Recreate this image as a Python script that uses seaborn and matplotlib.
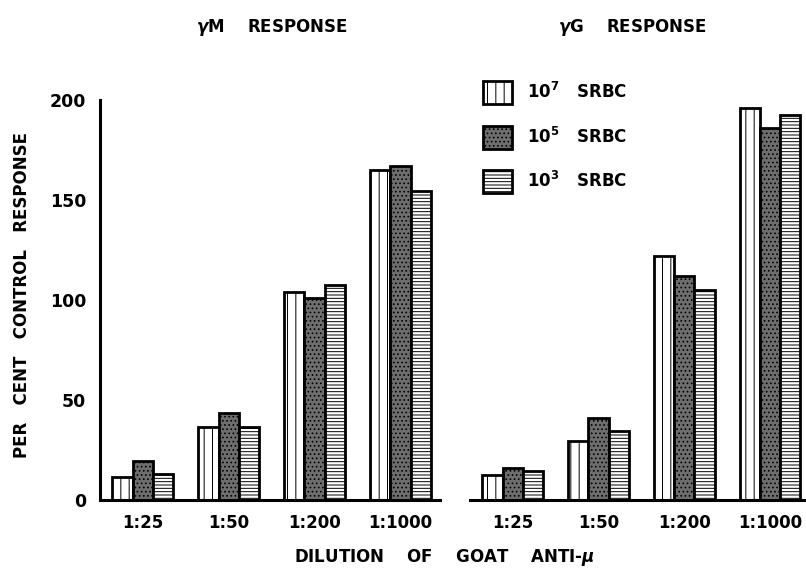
import matplotlib
matplotlib.use("Agg")
import matplotlib.pyplot as plt
from matplotlib.patches import Patch
import seaborn as sns
import pandas as pd

dilutions = ["1:25", "1:50", "1:200", "1:1000"]
doses = ["10$^{7}$   SRBC", "10$^{5}$   SRBC", "10$^{3}$   SRBC"]

gm_1e7 = [11.5, 36.5, 104, 165]
gm_1e5 = [19.5, 43.5, 101, 167]
gm_1e3 = [13, 36.5, 107.5, 154.5]

gg_1e7 = [12.5, 29.5, 122, 196]
gg_1e5 = [16, 41, 112, 186]
gg_1e3 = [14.5, 34.5, 105, 192.5]

panel_titles = [r"$\mathit{\gamma}$M    RESPONSE", r"$\mathit{\gamma}$G    RESPONSE"]
y_label = "PER   CENT   CONTROL   RESPONSE"
x_label = r"DILUTION    OF    GOAT    ANTI-$\mathit{\mu}$"

def long_df(a, b, c):
    rows = []
    for vals, d in zip([a, b, c], doses):
        for dil, v in zip(dilutions, vals):
            rows.append({"dilution": dil, "dose": d, "value": v})
    return pd.DataFrame(rows)

df_m = long_df(gm_1e7, gm_1e5, gm_1e3)
df_g = long_df(gg_1e7, gg_1e5, gg_1e3)

sns.set_theme(style="white")
plt.rcParams["font.family"] = ["DejaVu Sans"]
plt.rcParams["font.weight"] = "bold"
plt.rcParams["mathtext.default"] = "bf"
plt.rcParams["hatch.linewidth"] = 0.7
plt.rcParams["text.color"] = "black"
plt.rcParams["axes.labelcolor"] = "black"
plt.rcParams["xtick.color"] = "black"
plt.rcParams["ytick.color"] = "black"

fig = plt.figure(figsize=(8.06, 5.70), dpi=100)
ax1 = fig.add_axes([100 / 806, 70 / 570, 340 / 806, 400 / 570])
ax2 = fig.add_axes([470 / 806, 70 / 570, 336 / 806, 400 / 570])

palette = ["white", "#6e6e6e", "white"]
hatches = ["||", "....", "-----"]

for ax, df in [(ax1, df_m), (ax2, df_g)]:
    sns.barplot(data=df, x="dilution", y="value", hue="dose", order=dilutions,
                hue_order=doses, palette=palette, width=0.71, gap=0,
                edgecolor="black", linewidth=2, saturation=1, ax=ax,
                legend=False, errorbar=None)
    n = len(dilutions)
    for i, p in enumerate(ax.patches):
        p.set_hatch(hatches[i // n])
    ax.set_ylim(0, 200)
    ax.set_xlabel("")
    ax.set_ylabel("")
    ax.tick_params(axis="x", length=0, labelsize=12, pad=10, labelcolor="black")
    for lab in ax.get_xticklabels():
        lab.set_fontweight("bold")
    for s in ["top", "right"]:
        ax.spines[s].set_visible(False)
    ax.spines["bottom"].set_linewidth(2.2)
    ax.spines["bottom"].set_color("black")

ax1.set_xlim(-0.5, 3.46)
ax2.set_xlim(-0.5, 3.42)

ax1.spines["left"].set_linewidth(2.2)
ax1.spines["left"].set_color("black")
ax1.set_yticks([0, 50, 100, 150, 200])
ax1.tick_params(axis="y", direction="in", length=5, width=1.5, labelsize=12.5, pad=10,
                color="black", labelcolor="black")
for lab in ax1.get_yticklabels():
    lab.set_fontweight("bold")

ax2.spines["left"].set_visible(False)
ax2.set_yticks([])

fig.text(272 / 806, 1 - 27 / 570, panel_titles[0], ha="center", va="center",
         fontsize=12, fontweight="bold", color="black")
fig.text(632 / 806, 1 - 27 / 570, panel_titles[1], ha="center", va="center",
         fontsize=12, fontweight="bold", color="black")
fig.text(22 / 806, 1 - 295 / 570, y_label, ha="center", va="center",
         rotation=90, fontsize=12, fontweight="bold", color="black")
fig.text(444 / 806, 1 - 558 / 570, x_label, ha="center", va="center",
         fontsize=12, fontweight="bold", color="black")

handles = [Patch(facecolor=c, edgecolor="black", hatch=h, linewidth=2)
           for c, h in zip(palette, hatches)]
leg = fig.legend(handles, doses, loc="upper left", bbox_to_anchor=(468 / 806, 1 - 66 / 570),
                 frameon=False, handlelength=1.75, handleheight=1.75,
                 labelspacing=1.3, handletextpad=0.9, prop={"weight": "bold", "size": 12})
for t in leg.get_texts():
    t.set_color("black")

fig.savefig("out.png", dpi=100)
